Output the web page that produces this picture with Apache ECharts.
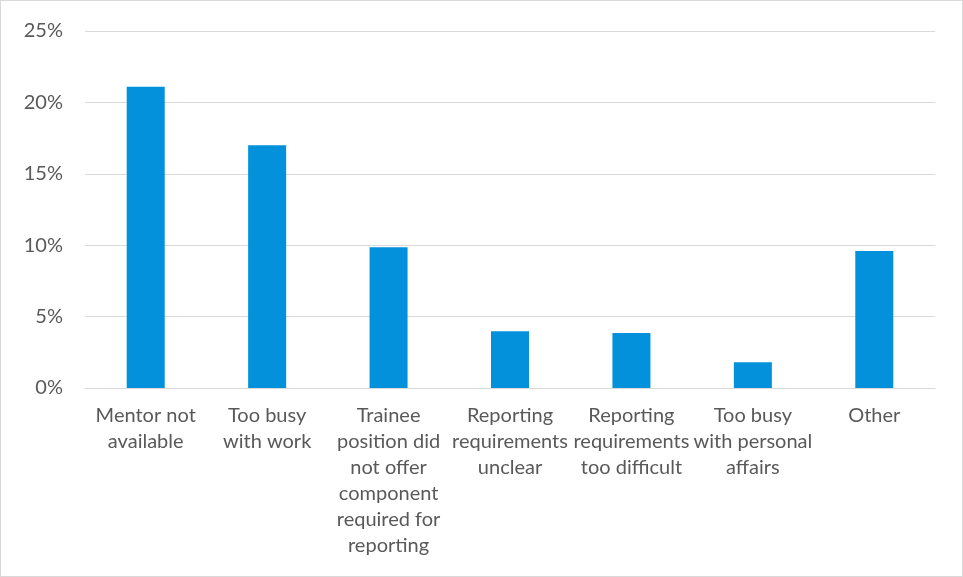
<!DOCTYPE html>
<html><head><meta charset="utf-8">
<script src="https://cdn.jsdelivr.net/npm/echarts@6/dist/echarts.min.js"></script>
<style>html,body{margin:0;padding:0;background:#fff}#c{width:963px;height:577px;box-sizing:border-box;border:1px solid #d9d9d9;}</style>
</head><body><div id="c"></div>
<script>
const categories = ["Mentor not\navailable","Too busy\nwith work","Trainee\nposition did\nnot offer\ncomponent\nrequired for\nreporting","Reporting\nrequirements\nunclear","Reporting\nrequirements\ntoo difficult","Too busy\nwith personal\naffairs","Other"];
const values = [21.1, 17.0, 9.85, 3.97, 3.85, 1.8, 9.6];
const yTicks = [0,5,10,15,20,25];
const chart = echarts.init(document.getElementById('c'), null, {renderer:'canvas'});
const font = 'Lato, "Open Sans", sans-serif';
chart.setOption({
  animation:false,
  grid:{left:84,right:27,top:30,bottom:188,containLabel:false},
  xAxis:{type:'category',data:categories,
    axisLine:{lineStyle:{color:'#d9d9d9',width:1}},axisTick:{show:false},
    axisLabel:{color:'#595959',fontFamily:font,fontSize:20,lineHeight:26,margin:15,interval:0}},
  yAxis:{type:'value',min:0,max:25,interval:5,
    axisLine:{show:false},axisTick:{show:false},
    splitLine:{lineStyle:{color:'#d9d9d9',width:1}},
    axisLabel:{color:'#595959',fontFamily:font,fontSize:20,margin:22,formatter:v=>v+'%'}},
  series:[{type:'bar',data:values,barWidth:38,itemStyle:{color:'#0291DA'}}]
});
</script></body></html>
